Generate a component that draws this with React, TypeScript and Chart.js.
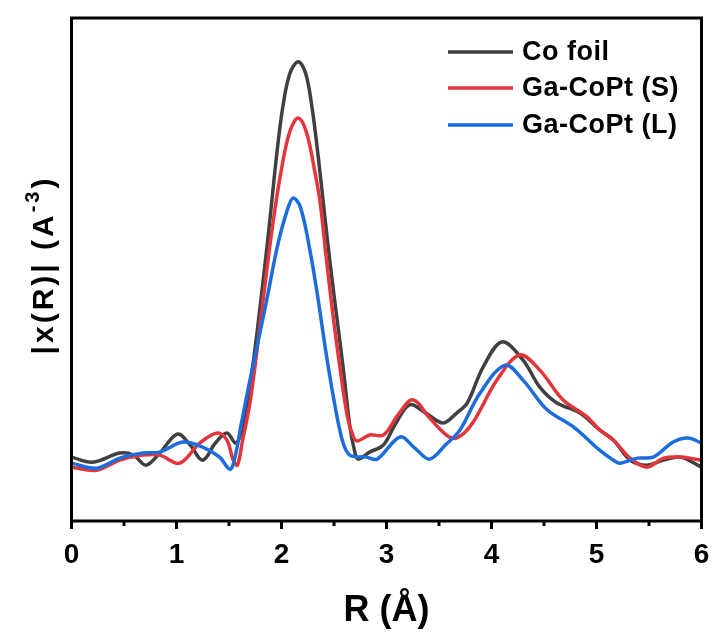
import React, { useEffect, useRef } from 'react';
import { Chart, registerables } from 'chart.js';

Chart.register(...registerables);

// R (Å) positions and |χ(R)| values (arbitrary units)
const coFoilR = [0.0, 0.2, 0.46, 0.59, 0.71, 0.84, 1.01, 1.13, 1.25, 1.37, 1.48, 1.56, 1.6, 1.64, 1.69, 1.74, 1.79, 1.84, 1.89, 1.95, 2.01, 2.08, 2.16, 2.23, 2.29, 2.35, 2.41, 2.47, 2.53, 2.59, 2.65, 2.69, 2.73, 2.84, 2.97, 3.08, 3.22, 3.37, 3.54, 3.67, 3.77, 3.92, 4.1, 4.3, 4.46, 4.62, 4.84, 5.03, 5.16, 5.32, 5.48, 5.64, 5.8, 6.0];
const coFoilY = [1.27, 1.17, 1.35, 1.31, 1.11, 1.35, 1.73, 1.51, 1.21, 1.55, 1.75, 1.55, 1.65, 2.0, 2.55, 3.3, 4.15, 5.05, 6.0, 7.2, 8.2, 8.9, 9.13, 8.9, 8.23, 7.24, 6.1, 5.0, 4.0, 3.0, 1.9, 1.45, 1.23, 1.37, 1.51, 1.91, 2.31, 2.15, 1.95, 2.15, 2.35, 3.06, 3.56, 3.2, 2.66, 2.35, 2.15, 1.81, 1.61, 1.21, 1.11, 1.21, 1.27, 1.07];

const gaCoPtSR = [0.0, 0.24, 0.46, 0.68, 0.84, 1.03, 1.22, 1.39, 1.48, 1.54, 1.58, 1.63, 1.7, 1.77, 1.84, 1.92, 2.0, 2.08, 2.16, 2.24, 2.32, 2.37, 2.42, 2.49, 2.56, 2.63, 2.68, 2.72, 2.84, 2.97, 3.11, 3.25, 3.41, 3.57, 3.67, 3.82, 4.05, 4.27, 4.46, 4.68, 4.91, 5.03, 5.16, 5.32, 5.48, 5.64, 5.8, 6.0];
const gaCoPtSY = [1.07, 1.01, 1.21, 1.31, 1.31, 1.15, 1.55, 1.75, 1.61, 1.21, 1.11, 1.61, 2.35, 3.45, 4.65, 5.95, 7.0, 7.75, 8.01, 7.71, 6.92, 6.3, 5.35, 4.1, 3.0, 2.05, 1.7, 1.59, 1.71, 1.71, 2.11, 2.41, 2.05, 1.71, 1.65, 1.95, 2.8, 3.3, 3.0, 2.41, 2.07, 1.81, 1.61, 1.25, 1.07, 1.25, 1.27, 1.21];

const gaCoPtLR = [0.0, 0.24, 0.46, 0.68, 0.84, 1.06, 1.25, 1.41, 1.51, 1.56, 1.61, 1.67, 1.73, 1.8, 1.86, 1.96, 2.05, 2.11, 2.18, 2.27, 2.35, 2.42, 2.5, 2.58, 2.65, 2.81, 2.91, 3.13, 3.27, 3.41, 3.56, 3.7, 3.89, 4.13, 4.3, 4.53, 4.78, 5.03, 5.16, 5.22, 5.39, 5.54, 5.73, 5.87, 6.0];
const gaCoPtLY = [1.15, 1.05, 1.25, 1.35, 1.37, 1.57, 1.47, 1.27, 1.03, 1.3, 1.85, 2.5, 3.1, 3.8, 4.4, 5.45, 6.15, 6.42, 6.24, 5.39, 4.39, 3.4, 2.4, 1.6, 1.31, 1.27, 1.23, 1.67, 1.45, 1.23, 1.51, 1.81, 2.54, 3.1, 2.8, 2.21, 1.87, 1.41, 1.21, 1.15, 1.25, 1.27, 1.57, 1.65, 1.55];

const seriesNames = ['Co foil', 'Ga-CoPt (S)', 'Ga-CoPt (L)'];
const seriesColors = ['#404040', '#e5353c', '#1b6ddd'];
const majorTicks = [0, 1, 2, 3, 4, 5, 6];
const minorTicks = [0.5, 1.5, 2.5, 3.5, 4.5, 5.5];
const xTitle = 'R (Å)';
const yTitleMain = '|x(R)| (A';
const yTitleSup = '-3';
const yTitleEnd = ')';

const FONT = '"Liberation Sans", Arial, sans-serif';

const toPoints = (xs: number[], ys: number[]) => xs.map((x, i) => ({ x, y: ys[i] }));

const decorPlugin = {
  id: 'decor',
  afterDraw(chart: any) {
    const { ctx, chartArea: a, scales } = chart;
    ctx.save();
    // frame
    ctx.strokeStyle = '#000';
    ctx.lineWidth = 3;
    ctx.strokeRect(a.left, a.top, a.right - a.left, a.bottom - a.top);
    // major ticks
    ctx.lineCap = 'butt';
    for (const v of majorTicks) {
      const x = scales.x.getPixelForValue(v);
      ctx.beginPath();
      ctx.moveTo(x, a.bottom);
      ctx.lineTo(x, a.bottom + 8);
      ctx.stroke();
    }
    for (const v of minorTicks) {
      const x = scales.x.getPixelForValue(v);
      ctx.beginPath();
      ctx.moveTo(x, a.bottom);
      ctx.lineTo(x, a.bottom + 5);
      ctx.stroke();
    }
    // legend
    const legendY = [52, 88, 125];
    ctx.font = `bold 27px ${FONT}`;
    (ctx as any).letterSpacing = '0.5px';
    ctx.textBaseline = 'middle';
    ctx.textAlign = 'left';
    seriesNames.forEach((name, i) => {
      ctx.strokeStyle = seriesColors[i];
      ctx.lineWidth = 3.5;
      ctx.beginPath();
      ctx.moveTo(448, legendY[i]);
      ctx.lineTo(513, legendY[i]);
      ctx.stroke();
      ctx.fillStyle = '#000';
      ctx.fillText(name, 522, legendY[i] + 1);
    });
    (ctx as any).letterSpacing = '0px';
    // x title
    ctx.font = `bold 36px ${FONT}`;
    ctx.textAlign = 'center';
    ctx.textBaseline = 'middle';
    ctx.fillText(xTitle, (a.left + a.right) / 2, 611);
    // y title
    ctx.translate(53, 265);
    ctx.rotate(-Math.PI / 2);
    ctx.textAlign = 'left';
    ctx.textBaseline = 'alphabetic';
    (ctx as any).letterSpacing = '3px';
    const mainFont = `bold 30px ${FONT}`;
    const supFont = `bold 20px ${FONT}`;
    ctx.font = mainFont;
    const w1 = ctx.measureText(yTitleMain).width;
    const w3 = ctx.measureText(yTitleEnd).width;
    ctx.font = supFont;
    const w2 = ctx.measureText(yTitleSup).width;
    const total = w1 + w2 + w3;
    let x0 = -total / 2;
    ctx.font = mainFont;
    ctx.fillText(yTitleMain, x0, 0);
    x0 += w1;
    ctx.font = supFont;
    ctx.fillText(yTitleSup, x0, -14);
    x0 += w2;
    ctx.font = mainFont;
    ctx.fillText(yTitleEnd, x0, 0);
    ctx.restore();
  },
};

export default function App() {
  const ref = useRef<HTMLCanvasElement | null>(null);
  useEffect(() => {
    if (!ref.current) return;
    const chart = new Chart(ref.current, {
      type: 'line',
      data: {
        datasets: [
          { label: seriesNames[0], data: toPoints(coFoilR, coFoilY), borderColor: seriesColors[0], order: 3 },
          { label: seriesNames[1], data: toPoints(gaCoPtSR, gaCoPtSY), borderColor: seriesColors[1], order: 2 },
          { label: seriesNames[2], data: toPoints(gaCoPtLR, gaCoPtLY), borderColor: seriesColors[2], order: 1 },
        ].map((d) => ({ ...d, borderWidth: 3.5, pointRadius: 0, fill: false, tension: 0.35 })),
      },
      options: {
        animation: false,
        responsive: false,
        devicePixelRatio: 1,
        layout: { padding: { left: 0, top: 18, right: 11.5, bottom: 0 } },
        plugins: { legend: { display: false }, tooltip: { enabled: false } },
        scales: {
          x: {
            type: 'linear',
            min: 0,
            max: 6,
            grid: { display: false, drawTicks: false },
            border: { display: false },
            ticks: {
              stepSize: 1,
              padding: 17,
              color: '#000',
              font: { family: FONT, size: 28, weight: 'bold' },
            },
            afterFit: (s: any) => { s.height = 114; s.paddingLeft = 0; s.paddingRight = 0; },
          },
          y: {
            type: 'linear',
            min: 0,
            max: 10,
            grid: { display: false, drawTicks: false },
            border: { display: false },
            ticks: { display: false },
            afterFit: (s: any) => { s.width = 71.5; s.paddingTop = 0; s.paddingBottom = 0; },
          },
        },
      },
      plugins: [decorPlugin],
    });
    return () => chart.destroy();
  }, []);
  return (
    <div style={{ position: 'absolute', left: 0, top: 0, width: 713, height: 635, background: '#fff' }}>
      <canvas ref={ref} width={713} height={635} />
    </div>
  );
}
